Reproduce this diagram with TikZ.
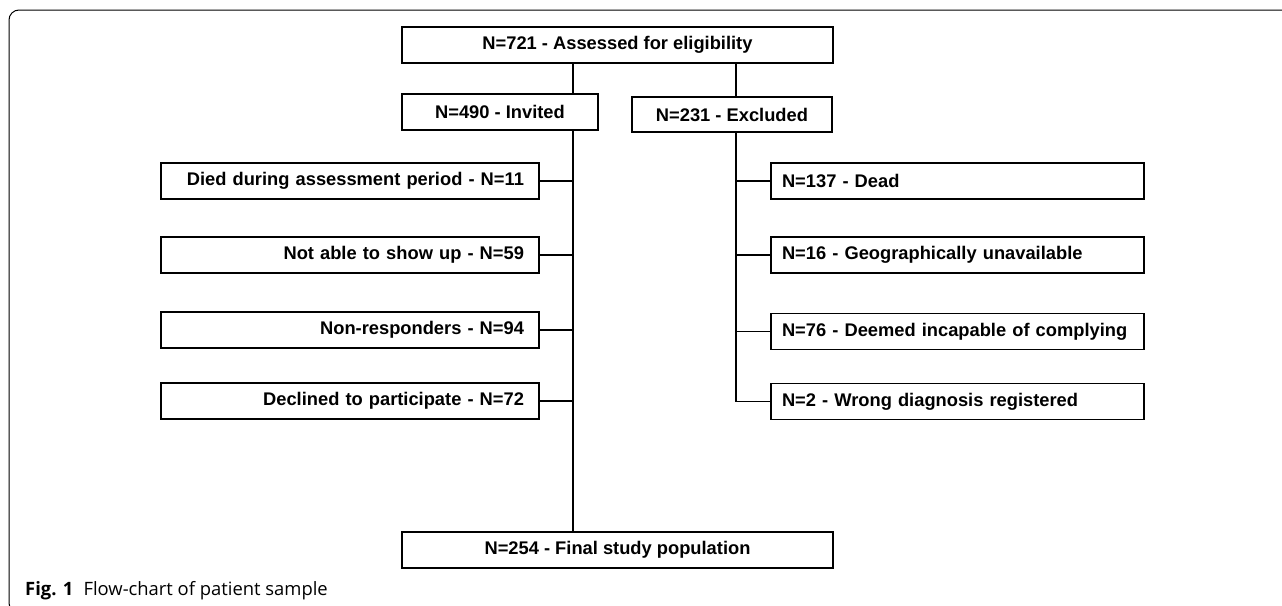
\documentclass[tikz,border=0pt]{standalone}
\usepackage{fontspec}
\setmainfont{Liberation Sans}
\newfontfamily\capfont{Open Sans}
\usepackage{tikz}

\begin{document}
\begin{tikzpicture}[x=1pt,y=-1pt,
		box/.style={draw,line width=1.8pt,inner sep=0pt,minimum height=36pt,font=\fontsize{18.3}{22}\selectfont\bfseries},
		lbox/.style={box,inner xsep=15pt,text width=348pt,align=right},
		rbox/.style={box,inner xsep=11pt,text width=351pt,align=left},
		link/.style={line width=1.3pt}]
		\useasboundingbox (0,0) rectangle (1282,605);
		\begin{scope}
		\clip (0,0) rectangle (1282,605);
		\draw[line width=1pt,rounded corners=10pt] (9,10) rectangle (1320,613);
		\end{scope}
		% top row
		\node[box,minimum width=431pt] (top) at (617.5,45) {N=721 - Assessed for eligibility};
		\node[box,minimum width=196pt] (inv) at (500,112) {N=490 - Invited};
		\node[box,minimum width=200pt,minimum height=35pt] (exc) at (732,114.5) {N=231 - Excluded};
		% invited branch
		\node[lbox] (l1) at (350,181) {Died during assessment period - N=11};
		\node[lbox] (l2) at (350,255) {Not able to show up - N=59};
		\node[lbox] (l3) at (350,330) {Non-responders - N=94};
		\node[lbox] (l4) at (350,401) {Declined to participate - N=72};
		% excluded branch
		\node[rbox] (r1) at (957.5,181) {N=137 - Dead};
		\node[rbox] (r2) at (957.5,255) {N=16 - Geographically unavailable};
		\node[rbox] (r3) at (957.5,331.5) {N=76 - Deemed incapable of complying};
		\node[rbox] (r4) at (957.5,401.5) {N=2 - Wrong diagnosis registered};
		\node[box,minimum width=431pt] (fin) at (617.5,550) {N=254 - Final study population};
		\coordinate (ls) at (573,0);
		\coordinate (rs) at (736,0);
		\path[link]
		(top.south -| ls) edge (inv.north -| ls)
		(top.south -| rs) edge (exc.north -| rs)
		(inv.south -| ls) edge (fin.north -| ls)
		(exc.south -| rs) edge (r4.west -| rs);
		\foreach \n in {l1,l2,l3,l4}
			\draw[link] (\n.east) -- (\n.east -| ls);
		\foreach \n in {r1,r2,r3,r4}
			\draw[link] (\n.west -| rs) -- (\n.west);
		\node[anchor=base west,inner sep=0pt,font=\capfont\fontsize{18.4}{21}\selectfont] (cap) at (25,595) {\textbf{Fig. 1}\hspace{0.55em}Flow-chart of patient sample};
		\end{tikzpicture}
\end{document}
